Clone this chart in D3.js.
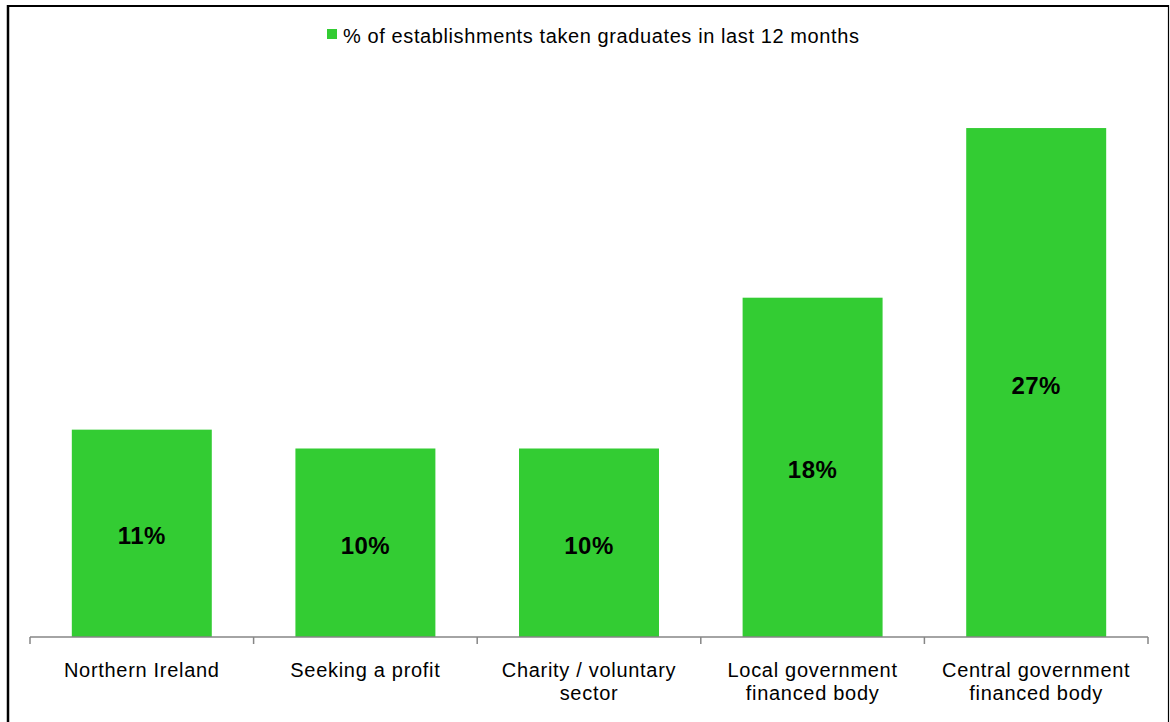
<!DOCTYPE html>
<html>
<head>
<meta charset="utf-8">
<script src="https://cdn.jsdelivr.net/npm/d3@7"></script>
<style>
  html, body { margin: 0; padding: 0; background: #fff; }
  svg { display: block; font-family: "Liberation Sans", Arial, sans-serif; }
</style>
</head>
<body>
<svg id="chart" width="1170" height="722"></svg>
<script>
// Establishments that have taken on graduates, by sector
const categories = [
  ["Northern Ireland"],
  ["Seeking a profit"],
  ["Charity / voluntary", "sector"],
  ["Local government", "financed body"],
  ["Central government", "financed body"]
];
const values = [11, 10, 10, 18, 27];
const seriesName = "% of establishments taken graduates in last 12 months";

const svg = d3.select("#chart");
const W = 1170, H = 722;
const barColor = "#33CC33";
const axisColor = "#868686";

// Outer frame
svg.append("line").attr("x1", 8).attr("y1", 5).attr("x2", 8).attr("y2", H)
  .attr("stroke", "#000").attr("stroke-width", 2.5);
svg.append("line").attr("x1", 7).attr("y1", 6).attr("x2", 1169).attr("y2", 6)
  .attr("stroke", "#000").attr("stroke-width", 2);
svg.append("line").attr("x1", 1168.5).attr("y1", 5).attr("x2", 1168.5).attr("y2", H)
  .attr("stroke", "#000").attr("stroke-width", 1.2);

const plot = { left: 30, right: 1148, top: 71.5, bottom: 637 };

const x = d3.scaleBand()
  .domain(categories.map((c, i) => i))
  .range([plot.left, plot.right])
  .paddingInner(0.374)
  .paddingOuter(0.187);

const y = d3.scaleLinear().domain([0, 30]).range([plot.bottom, plot.top]);

// Bars
svg.append("g").selectAll("rect")
  .data(values)
  .join("rect")
  .attr("x", (d, i) => x(i))
  .attr("y", d => y(d))
  .attr("width", x.bandwidth())
  .attr("height", d => y(0) - y(d))
  .attr("fill", barColor);

// Value labels centred inside each bar
svg.append("g").selectAll("text")
  .data(values)
  .join("text")
  .attr("x", (d, i) => x(i) + x.bandwidth() / 2)
  .attr("y", d => (y(d) + y(0)) / 2)
  .attr("dy", "0.46em")
  .attr("text-anchor", "middle")
  .attr("font-size", 24)
  .attr("letter-spacing", 0.5)
  .attr("font-weight", "bold")
  .attr("fill", "#000")
  .text(d => d + "%");

// Category axis: baseline with ticks between categories
const ax = svg.append("g");
ax.append("line")
  .attr("x1", plot.left).attr("x2", plot.right)
  .attr("y1", plot.bottom).attr("y2", plot.bottom)
  .attr("stroke", axisColor).attr("stroke-width", 1.5);
const tickXs = d3.range(categories.length + 1).map(i => plot.left + i * (plot.right - plot.left) / categories.length);
ax.selectAll("line.tick")
  .data(tickXs)
  .join("line")
  .attr("class", "tick")
  .attr("x1", d => d).attr("x2", d => d)
  .attr("y1", plot.bottom).attr("y2", plot.bottom + 7)
  .attr("stroke", axisColor).attr("stroke-width", 1.5);

// Category labels (wrapped onto two lines where needed)
const lbl = svg.append("g").selectAll("text")
  .data(categories)
  .join("text")
  .attr("x", (d, i) => x(i) + x.bandwidth() / 2)
  .attr("y", 677)
  .attr("text-anchor", "middle")
  .attr("font-size", 20)
  .attr("letter-spacing", 0.7)
  .attr("fill", "#000");
lbl.selectAll("tspan")
  .data(d => d)
  .join("tspan")
  .attr("x", function () { return d3.select(this.parentNode).attr("x"); })
  .attr("dy", (d, i) => i === 0 ? 0 : 23)
  .text(d => d);

// Legend
const lg = svg.append("g");
lg.append("rect").attr("x", 327).attr("y", 29).attr("width", 10).attr("height", 10).attr("fill", barColor);
lg.append("text").attr("x", 343).attr("y", 43)
  .attr("font-size", 20).attr("letter-spacing", 0.6).attr("fill", "#000")
  .text(seriesName);
</script>
</body>
</html>
